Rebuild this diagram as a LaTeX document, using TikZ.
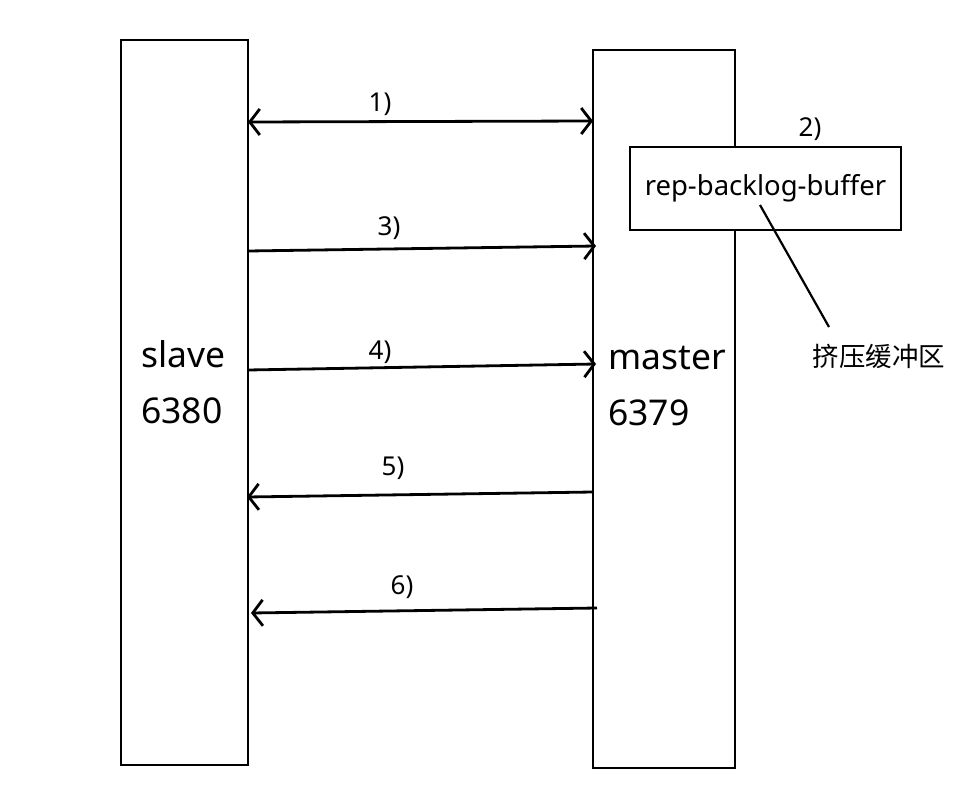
\documentclass[tikz,border=0pt]{standalone}
\usepackage{fontspec}
\setmainfont{Noto Sans}
\newfontfamily\cjk{Noto Sans CJK SC}
\usetikzlibrary{arrows.meta}
\begin{document}
\begin{tikzpicture}[x=1pt,y=-1pt,
  box/.style={draw,line width=2.8pt},
  msg/.style={line width=2.8pt,-{Straight Barb[length=10pt,width=26pt,line width=2.8pt]}},
  lbl/.style={font=\fontsize{26}{30}\selectfont,inner sep=0pt},
  big/.style={font=\fontsize{35.5}{56}\selectfont,align=left,inner sep=0pt,anchor=north west}]
\useasboundingbox (0,0) rectangle (980,808);
\draw[box] (121,40) rectangle (248,765);
\draw[box] (593,50) rectangle (735,768);
\node[draw,line width=2.8pt,fill=white,minimum width=271pt,minimum height=83pt,inner sep=0pt,
  font=\fontsize{27.5}{32}\selectfont] (buf) at (765.5,188.5) {rep-backlog-buffer};
\node[big] (slave) at (141,340) {slave\\6380};
\node[big] (master) at (608,346) {master\\6379};
% coordinates for arrow ends
\coordinate (s1) at (248,122); \coordinate (m1) at (593,121);
\coordinate (s3) at (248,251); \coordinate (m3) at (596,246);
\coordinate (s4) at (248,370); \coordinate (m4) at (596,364);
\coordinate (m5) at (593,492); \coordinate (s5) at (247,497);
\coordinate (m6) at (597,608); \coordinate (s6) at (251,613);
\draw[msg,{Straight Barb[length=10pt,width=26pt,line width=2.8pt]}-{Straight Barb[length=10pt,width=26pt,line width=2.8pt]}] (s1) -- (m1);
\draw[msg] (s3) -- (m3);
\draw[msg] (s4) -- (m4);
\draw[msg] (m5) -- (s5);
\draw[msg] (m6) -- (s6);
\node[lbl] (l1) at (380,104) {1)};
\node[lbl] (l2) at (810,129) {2)};
\node[lbl] (l3) at (389,228) {3)};
\node[lbl] (l4) at (380,352) {4)};
\node[lbl] (l5) at (393,468) {5)};
\node[lbl] (l6) at (402,587) {6)};
\node[inner sep=0pt,font=\cjk\fontsize{26.5}{30}\selectfont] (cn) at (879,356) {挤压缓冲区};
\coordinate (p1) at (760,205); \coordinate (p2) at (829,327);
\draw[line width=2.2pt] (p1) -- (p2);
\end{tikzpicture}
\end{document}
